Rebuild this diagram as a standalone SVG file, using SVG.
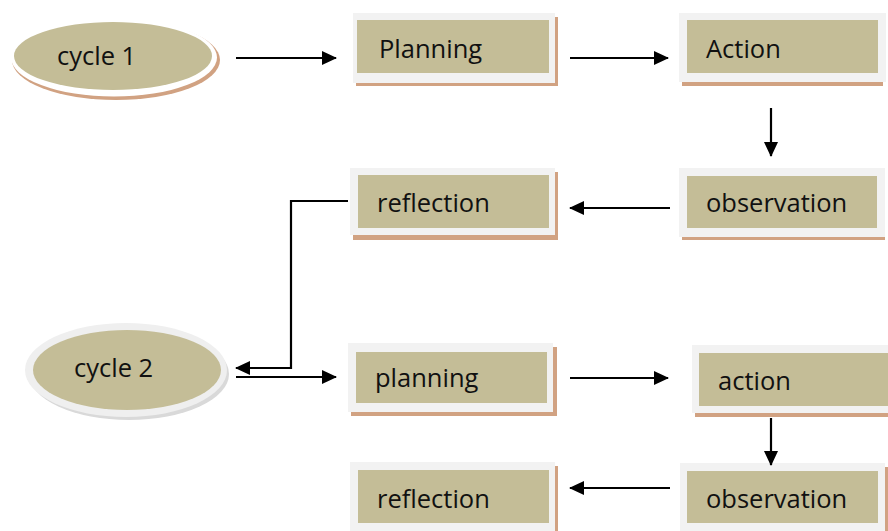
<svg xmlns="http://www.w3.org/2000/svg" width="888" height="531" viewBox="0 0 888 531">
<style>
.frame{fill:#f2f2f2}
.shadow{fill:#d1a282}
.tan{fill:#c4bd97}
.lbl{font-family:"Open Sans","Liberation Sans",sans-serif;font-size:25.5px;fill:#111}
.con{stroke:#000;stroke-width:2.2;fill:none}
</style>
<defs>
<marker id="ah" viewBox="0 0 15 14" refX="14" refY="7" markerWidth="15" markerHeight="14" markerUnits="userSpaceOnUse" orient="auto">
<path d="M0,0 L15,7 L0,14 Z" fill="#000"/>
</marker>
</defs>
<rect width="888" height="531" fill="#fff"/>

<g id="cycle1">
<ellipse cx="116" cy="60" rx="104" ry="40" fill="#d1a282"/>
<ellipse cx="114" cy="57.5" rx="103" ry="39" fill="#fff"/>
<ellipse cx="113" cy="56" rx="99" ry="34" class="tan"/>
<text x="57" y="65" class="lbl">cycle 1</text>
</g>

<g id="planning1">
<rect x="356" y="17" width="202" height="69" class="shadow"/>
<rect x="353" y="13" width="202" height="70" class="frame"/>
<rect x="357" y="20" width="192" height="53" class="tan"/>
<text x="379" y="58" class="lbl">Planning</text>
</g>

<g id="action1">
<rect x="682" y="17" width="201" height="69" class="shadow"/>
<rect x="679" y="13" width="207" height="69" class="frame"/>
<rect x="687" y="20" width="191" height="53" class="tan"/>
<text x="706" y="58" class="lbl">Action</text>
</g>

<g id="observation1">
<rect x="682" y="172" width="203" height="68" class="shadow"/>
<rect x="679" y="168" width="206" height="69" class="frame"/>
<rect x="687" y="176" width="190" height="52" class="tan"/>
<text x="706" y="212" class="lbl">observation</text>
</g>

<g id="reflection1">
<rect x="353" y="172" width="205" height="68" class="shadow"/>
<rect x="350" y="168" width="205" height="67" class="frame"/>
<rect x="358" y="175" width="191" height="53" class="tan"/>
<text x="377" y="212" class="lbl">reflection</text>
</g>

<g id="cycle2">
<ellipse cx="129" cy="374" rx="100" ry="46" fill="#d9d9d9"/>
<ellipse cx="126" cy="370" rx="101" ry="47" fill="#efefef"/>
<ellipse cx="127" cy="370" rx="94" ry="40" class="tan"/>
<text x="74" y="377" class="lbl">cycle 2</text>
</g>

<g id="planning2">
<rect x="351" y="347" width="206" height="69" class="shadow"/>
<rect x="348" y="343" width="205" height="69" class="frame"/>
<rect x="356" y="352" width="191" height="51" class="tan"/>
<text x="375" y="387" class="lbl">planning</text>
</g>

<g id="action2">
<rect x="695" y="349" width="205" height="68" class="shadow"/>
<rect x="692" y="345" width="205" height="68" class="frame"/>
<rect x="699" y="353" width="191" height="53" class="tan"/>
<text x="718" y="390" class="lbl">action</text>
</g>

<g id="observation2">
<rect x="683" y="467" width="205" height="70" class="shadow"/>
<rect x="680" y="463" width="205" height="70" class="frame"/>
<rect x="687" y="471" width="191" height="52" class="tan"/>
<text x="706" y="508" class="lbl">observation</text>
</g>

<g id="reflection2">
<rect x="353" y="466" width="205" height="70" class="shadow"/>
<rect x="350" y="462" width="205" height="70" class="frame"/>
<rect x="358" y="470" width="191" height="53" class="tan"/>
<text x="377" y="508" class="lbl">reflection</text>
</g>

<g id="connectors">
<line x1="236" y1="58" x2="336" y2="58" class="con" marker-end="url(#ah)"/>
<line x1="570" y1="58" x2="668" y2="58" class="con" marker-end="url(#ah)"/>
<line x1="771" y1="108" x2="771" y2="156" class="con" marker-end="url(#ah)"/>
<line x1="670" y1="208" x2="570" y2="208" class="con" marker-end="url(#ah)"/>
<polyline points="348,201 291,201 291,368 236,368" class="con" marker-end="url(#ah)"/>
<line x1="236" y1="377" x2="336" y2="377" class="con" marker-end="url(#ah)"/>
<line x1="570" y1="378" x2="668" y2="378" class="con" marker-end="url(#ah)"/>
<line x1="771" y1="418" x2="771" y2="465" class="con" marker-end="url(#ah)"/>
<line x1="670" y1="488" x2="570" y2="488" class="con" marker-end="url(#ah)"/>
</g>
</svg>
